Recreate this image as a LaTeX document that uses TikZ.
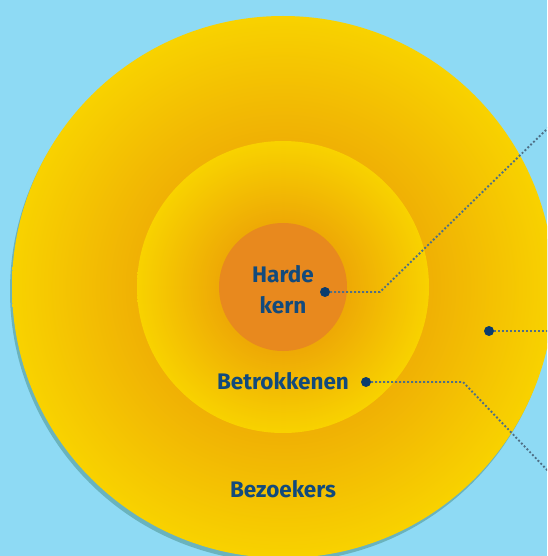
\documentclass[tikz,border=0pt]{standalone}
\usepackage{fontspec}
\setmainfont{Fira Sans}
\definecolor{skyblue}{HTML}{8EDAF4}
\definecolor{shadowteal}{HTML}{6AB3BD}
\definecolor{ringorange}{HTML}{E6890A}
\definecolor{ringyellow}{HTML}{F8D200}
\definecolor{coreorange}{HTML}{E8891E}
\definecolor{textblue}{HTML}{124A7C}
\definecolor{dotblue}{HTML}{0B3C6E}
\definecolor{leadgray}{HTML}{4F6F86}
\pgfdeclareradialshading{ringglow}{\pgfpoint{0bp}{0bp}}{color(0bp)=(ringorange); color(25bp)=(ringyellow); color(50bp)=(ringyellow)}

\begin{document}
\begin{tikzpicture}[x=1pt,y=-1pt]
    \tikzstyle{marker} = [circle, fill=dotblue, inner sep=0pt, minimum size=10pt]
    \tikzstyle{leader} = [leadgray, line width=1.9pt, dash pattern=on 1.9pt off 2.1pt]
    \tikzstyle{ringlabel} = [text=textblue, font=\fontsize{22.5}{31}\selectfont\bfseries, inner sep=0pt, align=center]
    \useasboundingbox (0,0) rectangle (547,556);
    \clip (0,0) rectangle (547,556);
    \fill[skyblue] (0,0) rectangle (547,556);
    % rings
    \coordinate (centre) at (283,287);
    \fill[shadowteal] (281,291) circle (271);
    \shade[shading=ringglow] (centre) circle (271);
    \shade[shading=ringglow] (centre) circle (146);
    \fill[coreorange] (centre) circle (64);
    % labels
    \node[ringlabel, anchor=base] (core) at (283,313) {Harde\\kern};
    \node[ringlabel, anchor=base] (involved) at (283,389) {Betrokkenen};
    \node[ringlabel, anchor=base] (visitors) at (283,497) {Bezoekers};
    % markers and leaders
    \node[marker] (dotcore) at (325,292) {};
    \node[marker] (dotinvolved) at (366,382) {};
    \node[marker] (dotvisitors) at (489,331) {};
    \coordinate (bendcore) at (380,292); \coordinate (endcore) at (549,127);
    \coordinate (bendinvolved) at (463,382); \coordinate (endinvolved) at (549,472);
    \coordinate (endvisitors) at (549,331);
    \draw[leader] (dotcore) -- (bendcore) -- (endcore);
    \draw[leader] (dotinvolved) -- (bendinvolved) -- (endinvolved);
    \draw[leader] (dotvisitors) -- (endvisitors);
\end{tikzpicture}
\end{document}
